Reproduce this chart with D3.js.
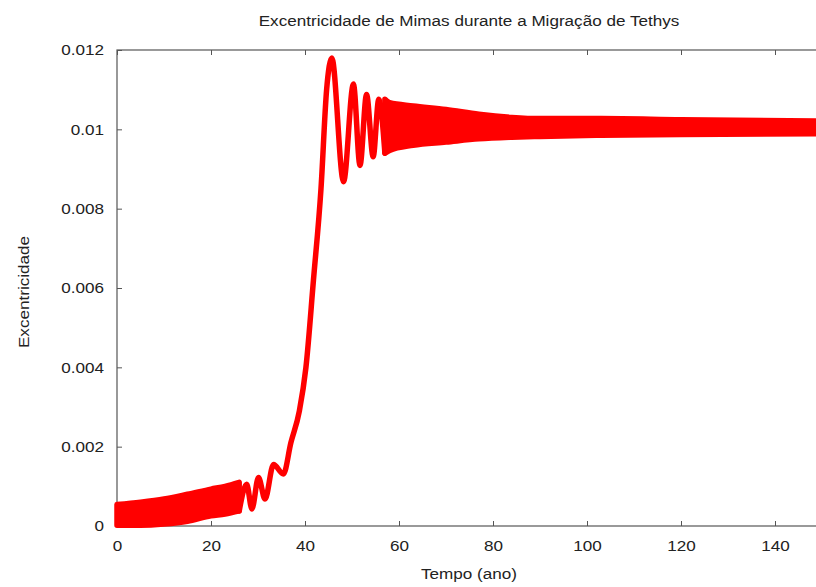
<!DOCTYPE html>
<html lang="pt">
<head>
<meta charset="UTF-8">
<script src="https://cdn.jsdelivr.net/npm/d3@7/dist/d3.min.js"></script>
<title>Excentricidade de Mimas</title>
<style>
    body { margin: 0; background: #fff; }
    text { font-family: "Liberation Sans", Arial, sans-serif; fill: #222; }
    /* o original tem as letras um pouco mais largas */
    .xlab text { transform-box: fill-box; transform-origin: center; transform: scaleX(1.14); }
    .ylab text { transform-box: fill-box; transform-origin: right center; transform: scaleX(1.14); }
</style>
</head>
<body>
<script>
    // faixa inicial (oscilacoes rapidas): envelopes superior e inferior
    let tempoIni = [0, 5, 10, 15, 20, 23, 26];
    let supIni = [0.00054, 0.0006, 0.00068, 0.0008, 0.00093, 0.001, 0.0011];
    let infIni = [0.00002, 0.00002, 0.00005, 0.00012, 0.00026, 0.0003, 0.00038];

    // oscilacoes resolvidas, subida e primeiros picos
    let tempoMeio = [26, 27.6, 28.7, 30.1, 31.5, 33.3, 35.4, 37, 38.8, 40.2, 41.8,
        43.4, 44.6, 45.7, 48.2, 50.3, 51.7, 53.1, 54.5, 55.7, 57];
    let excMeio = [0.00038, 0.00105, 0.00043, 0.00122, 0.00068, 0.00155, 0.00131,
        0.0021, 0.0029, 0.004, 0.0062, 0.0085, 0.011, 0.0118, 0.00868, 0.01114,
        0.00909, 0.01088, 0.00931, 0.01076, 0.0094];

    // faixa final
    let tempoFim = [57, 58, 63, 70, 77, 84, 90, 103, 120, 150];
    let supFim = [0.01076, 0.01067, 0.01059, 0.0105, 0.01038, 0.0103, 0.01027, 0.01027, 0.01024, 0.01021];
    let infFim = [0.0094, 0.00947, 0.0096, 0.00968, 0.00976, 0.0098, 0.00982, 0.00985, 0.00987, 0.00989];

    let xTicks = [0, 20, 40, 60, 80, 100, 120, 140];
    let yTicks = [0, 0.002, 0.004, 0.006, 0.008, 0.01, 0.012];
    let yTickLabels = ["0", "0.002", "0.004", "0.006", "0.008", "0.01", "0.012"];

    let margin = {left: 117, top: 50, right: 822, bottom: 526};

    let svg = d3.select("body")
        .append("svg")
        .attr("width", 816)
        .attr("height", 587)

    let xScale = d3.scaleLinear()
        .domain([0, 150])
        .range([margin.left, margin.right]);

    let yScale = d3.scaleLinear()
        .domain([0, 0.012])
        .range([margin.bottom, margin.top]);

    // moldura
    svg.append("rect")
        .attr("x", margin.left)
        .attr("y", margin.top)
        .attr("width", margin.right - margin.left)
        .attr("height", margin.bottom - margin.top)
        .attr("fill", "none")
        .attr("stroke", "#555")
        .attr("stroke-width", 1.2)

    // eixos com marcas para dentro
    let xAxis = d3.axisBottom(xScale).tickValues(xTicks).tickSize(-5).tickPadding(14)
    let xTop = d3.axisTop(xScale).tickValues(xTicks).tickSize(-5).tickFormat("")
    let yAxis = d3.axisLeft(yScale).tickValues(yTicks).tickSize(-5).tickPadding(13)
        .tickFormat((d, i) => yTickLabels[i])

    svg.append("g")
        .attr("class", "xlab")
        .attr("transform", `translate(0, ${margin.bottom})`)
        .call(xAxis)
    svg.append("g")
        .attr("transform", `translate(0, ${margin.top})`)
        .call(xTop)
    svg.append("g")
        .attr("class", "ylab")
        .attr("transform", `translate(${margin.left}, 0)`)
        .call(yAxis)

    svg.selectAll(".domain").remove()
    svg.selectAll(".tick line").attr("stroke", "#555")
    svg.selectAll(".tick text")
        .style("font-family", '"Liberation Sans", Arial, sans-serif')
        .style("font-size", "15px")
        .attr("fill", "#222")

    // curva
    let area = d3.area()
        .x(d => xScale(d.t))
        .y0(d => yScale(d.inf))
        .y1(d => yScale(d.sup))
        .curve(d3.curveMonotoneX)

    let linha = d3.line()
        .x(d => xScale(d.t))
        .y(d => yScale(d.e))
        .curve(d3.curveMonotoneX)

    let faixaIni = tempoIni.map((t, i) => ({t: t, sup: supIni[i], inf: infIni[i]}))
    let faixaFim = tempoFim.map((t, i) => ({t: t, sup: supFim[i], inf: infFim[i]}))
    let meio = tempoMeio.map((t, i) => ({t: t, e: excMeio[i]}))

    svg.selectAll(".faixa")
        .data([faixaIni, faixaFim])
        .enter()
        .append("path")
        .attr("class", "faixa")
        .attr("d", area)
        .attr("fill", "#ff0000")
        .attr("stroke", "#ff0000")
        .attr("stroke-width", 5.5)
        .attr("stroke-linejoin", "round")

    svg.append("path")
        .datum(meio)
        .attr("d", linha)
        .attr("fill", "none")
        .attr("stroke", "#ff0000")
        .attr("stroke-width", 5.5)
        .attr("stroke-linejoin", "round")
        .attr("stroke-linecap", "round")

    // textos
    svg.append("text")
        .attr("transform", "translate(469, 26) scale(1.14, 1)")
        .attr("text-anchor", "middle")
        .style("font-size", "15px")
        .text("Excentricidade de Mimas durante a Migração de Tethys")

    svg.append("text")
        .attr("transform", "translate(469, 579) scale(1.14, 1)")
        .attr("text-anchor", "middle")
        .style("font-size", "15px")
        .text("Tempo (ano)")

    svg.append("text")
        .attr("transform", "translate(29, 292) rotate(-90) scale(1.14, 1)")
        .attr("text-anchor", "middle")
        .style("font-size", "15px")
        .text("Excentricidade")
</script>
</body>
</html>
